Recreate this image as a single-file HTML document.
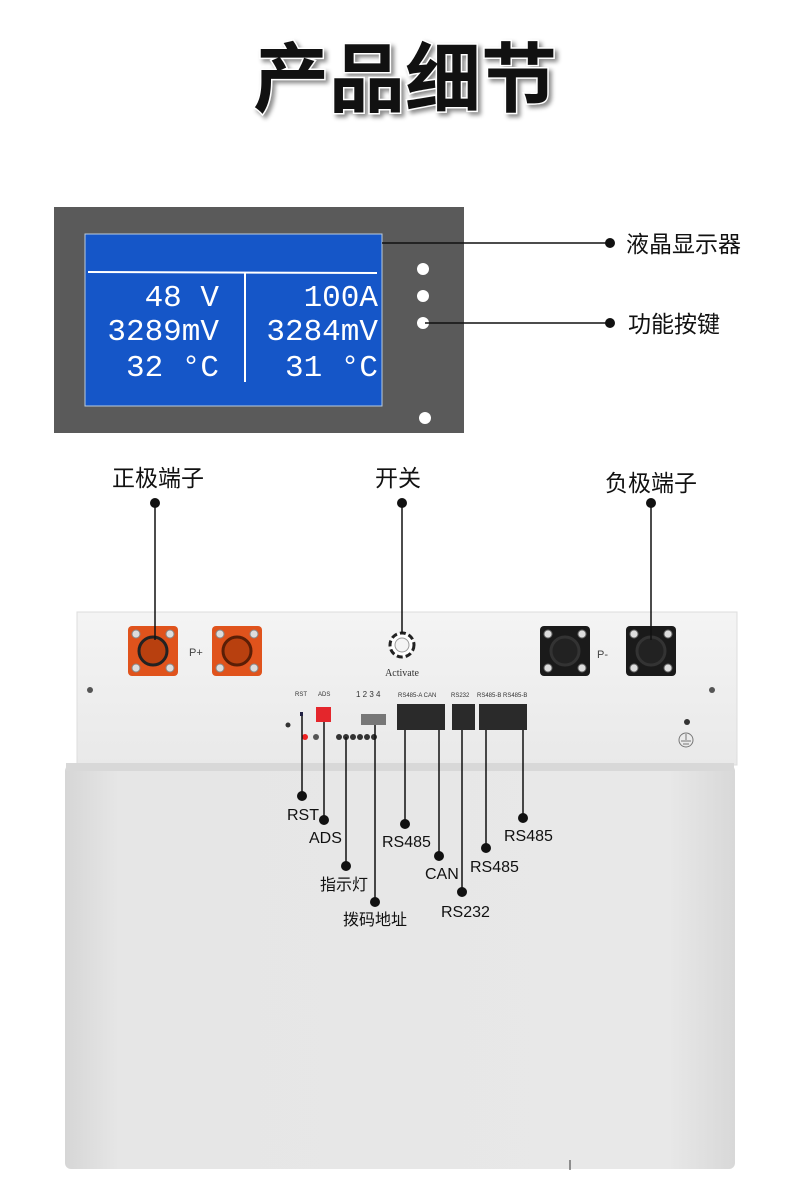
<!DOCTYPE html>
<html><head><meta charset="utf-8"><style>
html,body{margin:0;padding:0;background:#fff;}
svg{display:block}
.cn{font-family:"Liberation Sans","Noto Sans CJK SC",sans-serif;}
</style></head><body>
<svg width="790" height="1180" viewBox="0 0 790 1180" xmlns="http://www.w3.org/2000/svg">
<defs>
<linearGradient id="body" x1="0" y1="0" x2="1" y2="0">
<stop offset="0" stop-color="#d6d6d6"/><stop offset="0.08" stop-color="#e6e6e6"/><stop offset="0.9" stop-color="#e8e8e8"/><stop offset="1" stop-color="#d8d8d8"/></linearGradient>
<linearGradient id="top" x1="0" y1="0" x2="0" y2="1">
<stop offset="0" stop-color="#f4f4f4"/><stop offset="1" stop-color="#e9e9e9"/></linearGradient>
</defs>
<text x="405" y="106" text-anchor="middle" class="cn" font-size="76" font-weight="bold" fill="#111" stroke="#fff" stroke-width="3" paint-order="stroke" style="filter:drop-shadow(3px 3px 2px rgba(0,0,0,.45))">产品细节</text>

<rect x="54" y="207" width="410" height="226" fill="#5a5a5a"/>
<rect x="85" y="234" width="297" height="172" fill="#1556c8" stroke="#bcd" stroke-width="1"/>
<line x1="88" y1="272" x2="377" y2="273" stroke="#fff" stroke-width="2"/>
<line x1="245" y1="273" x2="245" y2="382" stroke="#fff" stroke-width="2"/>
<g font-family="Liberation Mono, monospace" font-size="31" fill="#fff" text-anchor="end">
<text x="219" y="306">48 V</text>
<text x="219" y="340">3289mV</text>
<text x="219" y="376">32 °C</text>
<text x="378" y="306">100A</text>
<text x="378" y="340">3284mV</text>
<text x="378" y="376">31 °C</text>
</g>
<g fill="#fff"><circle cx="423" cy="269" r="6"/><circle cx="423" cy="296" r="6"/><circle cx="423" cy="323" r="6"/><circle cx="425" cy="418" r="6"/></g>
<line x1="382" y1="243" x2="610" y2="243" stroke="#111" stroke-width="1.5"/>
<circle cx="610" cy="243" r="5" fill="#111"/>
<text x="626" y="252" class="cn" font-size="23" fill="#111">液晶显示器</text>
<line x1="425" y1="323" x2="610" y2="323" stroke="#111" stroke-width="1.5"/>
<circle cx="610" cy="323" r="5" fill="#111"/>
<text x="628" y="332" class="cn" font-size="23" fill="#111">功能按键</text>

<g class="cn" font-size="23" fill="#111" text-anchor="middle">
<text x="158" y="486">正极端子</text><text x="398" y="486">开关</text><text x="651" y="491">负极端子</text></g>

<rect x="65" y="765" width="670" height="404" rx="6" fill="url(#body)"/>
<rect x="77" y="612" width="660" height="153" fill="url(#top)" stroke="#ddd"/>
<rect x="66" y="763" width="668" height="8" fill="#d8d8d8"/>
<g>
<rect x="128" y="626" width="50" height="50" rx="4" fill="#e0531c"/><circle cx="153" cy="651" r="14" fill="#b8400f" stroke="#222" stroke-width="3"/>
<rect x="212" y="626" width="50" height="50" rx="4" fill="#e0531c"/><circle cx="237" cy="651" r="14" fill="#b8400f" stroke="#5a1e06" stroke-width="3"/>
<g fill="#ddd" stroke="#888"><circle cx="136" cy="634" r="4"/><circle cx="170" cy="634" r="4"/><circle cx="136" cy="668" r="4"/><circle cx="170" cy="668" r="4"/>
<circle cx="220" cy="634" r="4"/><circle cx="254" cy="634" r="4"/><circle cx="220" cy="668" r="4"/><circle cx="254" cy="668" r="4"/></g>
<rect x="540" y="626" width="50" height="50" rx="4" fill="#1a1a1a"/><circle cx="565" cy="651" r="14" fill="#222" stroke="#333" stroke-width="3"/>
<rect x="626" y="626" width="50" height="50" rx="4" fill="#1a1a1a"/><circle cx="651" cy="651" r="14" fill="#222" stroke="#333" stroke-width="3"/>
<g fill="#ddd" stroke="#666"><circle cx="548" cy="634" r="4"/><circle cx="582" cy="634" r="4"/><circle cx="548" cy="668" r="4"/><circle cx="582" cy="668" r="4"/>
<circle cx="634" cy="634" r="4"/><circle cx="668" cy="634" r="4"/><circle cx="634" cy="668" r="4"/><circle cx="668" cy="668" r="4"/></g>
</g>
<text x="189" y="656" font-family="Liberation Sans,sans-serif" font-size="11" fill="#444">P+</text>
<text x="597" y="658" font-family="Liberation Sans,sans-serif" font-size="11" fill="#444">P-</text>
<circle cx="402" cy="645" r="12" fill="#fff" stroke="#222" stroke-width="3" stroke-dasharray="6 3"/>
<circle cx="402" cy="645" r="7" fill="#f4f4f4" stroke="#999"/>
<text x="402" y="676" text-anchor="middle" font-family="Liberation Serif,serif" font-size="10" fill="#333">Activate</text>
<circle cx="90" cy="690" r="3" fill="#555"/><circle cx="712" cy="690" r="3" fill="#555"/>
<circle cx="687" cy="722" r="3" fill="#333"/>
<circle cx="686" cy="740" r="7" fill="none" stroke="#777"/><path d="M686 734v6M681 741h10M683 744h6" stroke="#777"/>
<g font-family="Liberation Sans,sans-serif" font-size="6" fill="#333">
<text x="295" y="696">RST</text><text x="318" y="696">ADS</text><text x="356" y="697" font-size="8">1 2 3 4</text>
<text x="398" y="697">RS485-A  CAN</text><text x="451" y="697">RS232</text><text x="477" y="697">RS485-B RS485-B</text></g>
<rect x="300" y="712" width="3" height="4" fill="#224"/>
<rect x="316" y="707" width="15" height="15" fill="#e4262c"/>
<rect x="361" y="714" width="25" height="11" fill="#777"/>
<circle cx="288" cy="725" r="2.5" fill="#333"/>
<circle cx="305" cy="737" r="3" fill="#e22"/><circle cx="316" cy="737" r="3" fill="#555"/>
<g fill="#333"><circle cx="339" cy="737" r="3"/><circle cx="346" cy="737" r="3"/><circle cx="353" cy="737" r="3"/><circle cx="360" cy="737" r="3"/><circle cx="367" cy="737" r="3"/><circle cx="374" cy="737" r="3"/></g>
<rect x="397" y="704" width="48" height="26" fill="#2a2a2a"/>
<rect x="452" y="704" width="23" height="26" fill="#2a2a2a"/>
<rect x="479" y="704" width="48" height="26" fill="#2a2a2a"/>
<g stroke="#111" stroke-width="1.5">
<line x1="155" y1="503" x2="155" y2="640"/><line x1="402" y1="503" x2="402" y2="633"/><line x1="651" y1="503" x2="651" y2="640"/>
<line x1="302" y1="716" x2="302" y2="795"/><line x1="324" y1="722" x2="324" y2="820"/><line x1="346" y1="737" x2="346" y2="866"/><line x1="375" y1="725" x2="375" y2="902"/>
<line x1="405" y1="730" x2="405" y2="824"/><line x1="439" y1="730" x2="439" y2="856"/><line x1="462" y1="730" x2="462" y2="892"/><line x1="486" y1="730" x2="486" y2="848"/><line x1="523" y1="730" x2="523" y2="818"/>
</g>
<g fill="#111"><circle cx="155" cy="503" r="5"/><circle cx="402" cy="503" r="5"/><circle cx="651" cy="503" r="5"/>
<circle cx="302" cy="796" r="5"/><circle cx="324" cy="820" r="5"/><circle cx="346" cy="866" r="5"/><circle cx="375" cy="902" r="5"/>
<circle cx="405" cy="824" r="5"/><circle cx="439" cy="856" r="5"/><circle cx="462" cy="892" r="5"/><circle cx="486" cy="848" r="5"/><circle cx="523" cy="818" r="5"/></g>
<g class="cn" font-size="16" fill="#111">
<text x="287" y="820">RST</text><text x="309" y="843">ADS</text><text x="320" y="890">指示灯</text><text x="343" y="925">拨码地址</text>
<text x="382" y="847">RS485</text><text x="425" y="879">CAN</text><text x="441" y="917">RS232</text><text x="470" y="872">RS485</text><text x="504" y="841">RS485</text></g>
<line x1="570" y1="1160" x2="570" y2="1170" stroke="#333"/>
</svg>
</body></html>
